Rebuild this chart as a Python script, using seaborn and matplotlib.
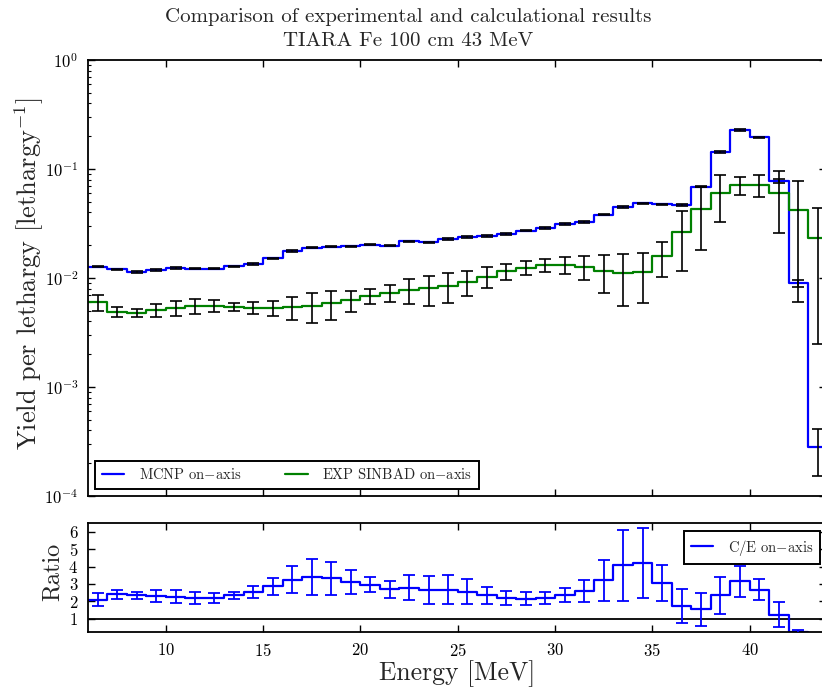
import numpy as np
import pandas as pd
import matplotlib
matplotlib.use("Agg")
import matplotlib.pyplot as plt
import seaborn as sns

# ---------------- data ----------------
bin_edges = list(range(6, 45))  # 1 MeV bins, 6..44 MeV

mcnp = [0.0127, 0.0120, 0.0114, 0.0118, 0.0123, 0.0122, 0.0122, 0.0128, 0.0134, 0.0151,
        0.0176, 0.0190, 0.0194, 0.0195, 0.0202, 0.0198, 0.0217, 0.0212, 0.0228,
        0.0238, 0.0243, 0.0253, 0.0272, 0.0288, 0.0313, 0.0326, 0.0381, 0.0448, 0.0484,
        0.0474, 0.0468, 0.0689, 0.143, 0.228, 0.195, 0.0776, 0.00893, 0.000284]
mcnp_err = [0.0002, 0.0002, 0.0002, 0.0002, 0.0002, 0.0002, 0.0002, 0.0002, 0.0002, 0.0002,
            0.0003, 0.0003, 0.0003, 0.0003, 0.0003, 0.0003, 0.0003, 0.0003, 0.0003,
            0.0004, 0.0004, 0.0004, 0.0004, 0.0004, 0.0005, 0.0005, 0.0006, 0.0007, 0.0007,
            0.0007, 0.0007, 0.0011, 0.002, 0.003, 0.003, 0.003, 0.0007, 0.00013]

exp = [0.00598, 0.00491, 0.00481, 0.00508, 0.00534, 0.00553, 0.00556, 0.00545, 0.00534, 0.00530,
       0.00540, 0.00557, 0.00586, 0.00628, 0.00684, 0.00733, 0.00776, 0.00804, 0.00850,
       0.00925, 0.0103, 0.0115, 0.0124, 0.0131, 0.0132, 0.0127, 0.0117, 0.0110, 0.0114,
       0.0159, 0.0264, 0.0432, 0.0607, 0.0718, 0.0718, 0.0607, 0.042, 0.0231]
exp_err = [0.0010, 0.00052, 0.00042, 0.00072, 0.00085, 0.00088, 0.0007, 0.00048, 0.0007, 0.00085,
           0.0013, 0.00167, 0.0017, 0.00136, 0.00102, 0.00137, 0.002, 0.00246, 0.00265,
           0.00246, 0.0022, 0.00195, 0.00183, 0.00186, 0.00234, 0.0031, 0.0044, 0.0055, 0.0055,
           0.0057, 0.0147, 0.025, 0.028, 0.0135, 0.016, 0.035, 0.036, 0.0206]

ratio = [2.08, 2.39, 2.35, 2.30, 2.26, 2.18, 2.18, 2.33, 2.51, 2.85,
         3.24, 3.41, 3.32, 3.12, 2.95, 2.68, 2.78, 2.64, 2.66,
         2.56, 2.33, 2.18, 2.14, 2.18, 2.37, 2.58, 3.20, 4.07, 4.21,
         3.05, 1.72, 1.54, 2.33, 3.14, 2.66, 1.23, 0.21, 0.012]
ratio_err = [0.37, 0.26, 0.20, 0.33, 0.39, 0.37, 0.28, 0.21, 0.35, 0.48,
             0.78, 1.03, 0.97, 0.68, 0.43, 0.51, 0.72, 0.80, 0.84,
             0.70, 0.49, 0.41, 0.37, 0.33, 0.42, 0.63, 1.19, 2.05, 2.00,
             1.06, 0.97, 0.96, 1.06, 0.88, 0.60, 0.73, 0.13, 0.01]

x_ticks = [10, 15, 20, 25, 30, 35, 40]
ratio_ticks = [1, 2, 3, 4, 5, 6]

title = "Comparison of experimental and calculational results\nTIARA Fe 100 cm 43 MeV"
label_mcnp = "MCNP on$-$axis"
label_exp = "EXP SINBAD on$-$axis"
label_ratio = "C/E on$-$axis"

# ---------------- style ----------------
sns.set_theme(style="ticks")
plt.rcParams.update({
    "font.family": ["cmr10", "DejaVu Serif"],
    "mathtext.fontset": "cm",
    "axes.formatter.use_mathtext": True,
    "axes.edgecolor": "black",
    "axes.linewidth": 1.3,
    "xtick.direction": "in",
    "ytick.direction": "in",
    "xtick.top": True,
    "ytick.right": True,
    "xtick.color": "black",
    "ytick.color": "black",
    "xtick.major.size": 5,
    "ytick.major.size": 5,
    "xtick.minor.size": 2.5,
    "ytick.minor.size": 2.5,
    "xtick.major.width": 1.0,
    "ytick.major.width": 1.0,
    "ytick.minor.width": 0.8,
    "xtick.major.pad": 7,
    "ytick.major.pad": 7,
    "xtick.labelsize": 12,
    "ytick.labelsize": 12,
})

BLUE = "#0000ff"
GREEN = "#008000"

W, H = 822, 695
XMIN, XMAX = 6, 43.9
px_per_mev = 19.46
fig = plt.figure(figsize=(W / 100, H / 100), dpi=100)
left = 88 / W
width = (XMAX - XMIN) * px_per_mev / W
ax1 = fig.add_axes([left, 1 - 496 / H, width, 436 / H])
ax2 = fig.add_axes([left, 1 - 632 / H, width, 109 / H])

centers = [e + 0.5 for e in bin_edges[:-1]]
df = pd.DataFrame({
    "E": bin_edges,
    "MCNP": mcnp + [mcnp[-1]],
    "EXP": exp + [exp[-1]],
    "Ratio": ratio + [ratio[-1]],
})

# ---------------- top panel ----------------
sns.lineplot(data=df, x="E", y="MCNP", drawstyle="steps-post", color=BLUE,
             lw=1.6, label=label_mcnp, ax=ax1)
sns.lineplot(data=df, x="E", y="EXP", drawstyle="steps-post", color=GREEN,
             lw=1.6, label=label_exp, ax=ax1)
ax1.errorbar(centers, mcnp, yerr=mcnp_err, fmt="none", ecolor="black",
             elinewidth=1.2, capsize=4, capthick=1.2, zorder=3)
ax1.errorbar(centers, exp, yerr=exp_err, fmt="none", ecolor="black",
             elinewidth=1.2, capsize=4, capthick=1.2, zorder=3)
ax1.set_yscale("log")
ax1.set_ylim(1e-4, 1)
ax1.set_xlim(XMIN, XMAX)
ax1.set_xticks(x_ticks)
ax1.tick_params(labelbottom=False)
ax1.set_xlabel("")
ax1.set_ylabel("Yield per lethargy [lethargy$^{-1}$]", fontsize=19)
ax1.yaxis.set_label_coords(-0.057, 0.51)
leg1 = ax1.legend(loc="lower left", bbox_to_anchor=(0.0095, 0.016), ncol=2,
                  fontsize=10.5, frameon=True, fancybox=False, edgecolor="black",
                  framealpha=1, handlelength=1.55, columnspacing=3.0,
                  handletextpad=1.0, borderpad=0.45, borderaxespad=0)
leg1.get_frame().set_linewidth(1.4)

# ---------------- ratio panel ----------------
sns.lineplot(data=df, x="E", y="Ratio", drawstyle="steps-post", color=BLUE,
             lw=1.6, label=label_ratio, ax=ax2)
ax2.errorbar(centers, ratio, yerr=ratio_err, fmt="none", ecolor=BLUE,
             elinewidth=1.3, capsize=4, capthick=1.3, zorder=3)
ax2.axhline(1, color="black", lw=1.3, zorder=1)
ax2.set_xlim(XMIN, XMAX)
ax2.set_ylim(0.22, 6.52)
ax2.set_xticks(x_ticks)
ax2.set_yticks(ratio_ticks)
ax2.set_xlabel("Energy [MeV]", fontsize=18.5)
ax2.set_ylabel("Ratio", fontsize=17.5)
ax2.yaxis.set_label_coords(-0.033, 0.55)
ax2.xaxis.set_label_coords(0.5, -0.26)
leg2 = ax2.legend(loc="upper right", bbox_to_anchor=((820 - 88) / (width * W), 0.927),
                  fontsize=10.5, frameon=True, fancybox=False, edgecolor="black",
                  framealpha=1, handlelength=1.55, handletextpad=1.0,
                  borderpad=0.45, borderaxespad=0)
leg2.get_frame().set_linewidth(1.4)

fig.text(0.497, 0.988, title, ha="center", va="top", fontsize=15, linespacing=1.4)

fig.savefig("out.png", dpi=100)
